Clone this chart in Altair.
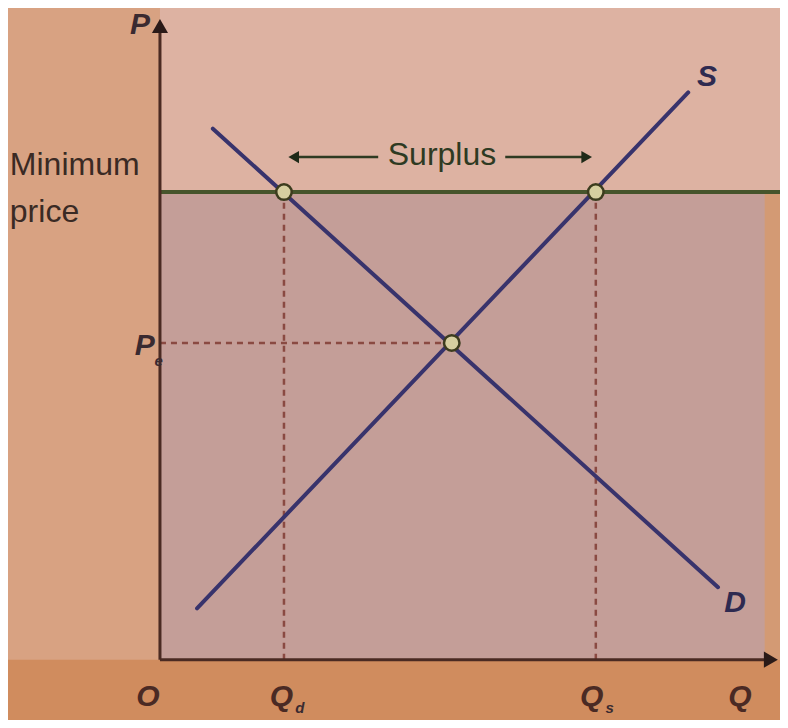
import altair as alt
import pandas as pd

# ---- data (economic units) ----
demand_q = [0.87, 9.18]
demand_p = [8.80, 1.20]
supply_q = [0.61, 8.69]
supply_p = [0.85, 9.40]
min_price = 7.75
pe = 5.25
qe = 4.80
qd = 2.04
qs = 7.17
point_q = [qd, qs, qe]
point_p = [min_price, min_price, pe]

XD = [-2.5, 10.2]
YD = [-1.0, 10.8]

def X(f="q"):
    return alt.X(f"{f}:Q", scale=alt.Scale(domain=XD, nice=False, zero=False), axis=None)

def Y(f="p"):
    return alt.Y(f"{f}:Q", scale=alt.Scale(domain=YD, nice=False, zero=False), axis=None)

# background regions
regions = pd.DataFrame({
    "q": [-2.5, 0, 0, 9.95], "q2": [10.2, 10.2, 9.95, 10.2],
    "p": [-1.0, min_price, 0, 0], "p2": [0, 10.8, min_price, min_price],
    "c": ["#d08c5e", "#ddb2a2", "#c49e98", "#d39a74"],
})
reg = alt.Chart(regions).mark_rect().encode(
    x=X("q"), x2="q2", y=Y("p"), y2="p2",
    color=alt.Color("c:N", scale=None))

# dashed guides
guides = pd.DataFrame({
    "q": [0, qd, qs], "q2": [qe, qd, qs],
    "p": [pe, 0, 0], "p2": [pe, min_price, min_price],
})
dash = alt.Chart(guides).mark_rule(color="#8a4a42", strokeWidth=2.5, strokeDash=[6, 5]).encode(
    x=X("q"), x2="q2", y=Y("p"), y2="p2")

# minimum price line
mp = alt.Chart(pd.DataFrame({"q": [0], "q2": [10.2], "p": [min_price]})).mark_rule(
    color="#46552c", strokeWidth=4).encode(x=X("q"), x2="q2", y=Y("p"), y2="p")

# demand & supply
curves = pd.DataFrame({
    "q": [demand_q[0], supply_q[0]], "q2": [demand_q[1], supply_q[1]],
    "p": [demand_p[0], supply_p[0]], "p2": [demand_p[1], supply_p[1]],
})
ds = alt.Chart(curves).mark_rule(color="#38336c", strokeWidth=4, strokeCap="round").encode(
    x=X("q"), x2="q2", y=Y("p"), y2="p2")

# axes
axes = pd.DataFrame({"q": [0, 0], "q2": [0, 9.95], "p": [0, 0], "p2": [10.4, 0]})
ax = alt.Chart(axes).mark_rule(color="#4a2a22", strokeWidth=3).encode(
    x=X("q"), x2="q2", y=Y("p"), y2="p2")
heads = pd.DataFrame({"q": [0, 10.05], "p": [10.5, 0], "s": ["triangle-up", "triangle-right"]})
hd = alt.Chart(heads).mark_point(filled=True, color="#2a1a18", size=260, opacity=1).encode(
    x=X("q"), y=Y("p"), shape=alt.Shape("s:N", scale=None))

# surplus arrows
arrows = pd.DataFrame({"q": [2.25, 5.68], "q2": [3.59, 6.95], "p": [8.33, 8.33]})
ar = alt.Chart(arrows).mark_rule(color="#2e3a22", strokeWidth=2.5).encode(
    x=X("q"), x2="q2", y=Y("p"), y2="p")
ahead = pd.DataFrame({"q": [2.2, 7.02], "p": [8.33, 8.33], "s": ["triangle-left", "triangle-right"]})
ah = alt.Chart(ahead).mark_point(filled=True, color="#1f2a18", size=150, opacity=1).encode(
    x=X("q"), y=Y("p"), shape=alt.Shape("s:N", scale=None))

# intersection points
pts = alt.Chart(pd.DataFrame({"q": point_q, "p": point_p})).mark_point(
    filled=True, fill="#d6cfa0", stroke="#3c3c1e", strokeWidth=2.5, size=240, opacity=1).encode(
    x=X("q"), y=Y("p"))

# text
plain = pd.DataFrame({
    "t": ["Minimum", "price"],
    "q": [-2.47, -2.47], "p": [8.2, 7.42],
})
tp = alt.Chart(plain).mark_text(font="Liberation Sans", fontSize=32, color="#3a2a24",
                                align="left", baseline="middle").encode(
    x=X("q"), y=Y("p"), text="t:N")

surplus = alt.Chart(pd.DataFrame({"t": ["Surplus"], "q": [4.64], "p": [8.36]})).mark_text(
    font="Liberation Sans", fontSize=32, color="#2e3a22", align="center", baseline="middle").encode(
    x=X("q"), y=Y("p"), text="t:N")

ital = pd.DataFrame({
    "t": ["P", "S", "D", "P", "O", "Q", "Q", "Q"],
    "q": [-0.33, 9.0, 9.46, -0.25, -0.2, 2.0, 7.1, 9.54],
    "p": [10.52, 9.65, 0.94, 5.2, -0.62, -0.62, -0.62, -0.62],
    "c": ["#3a2a30", "#2e2a50", "#2e2a50", "#3a2a30", "#4a2a24", "#4a2a24", "#4a2a24", "#4a2a24"],
})
ti = alt.Chart(ital).mark_text(font="Liberation Sans", fontSize=30, fontStyle="italic",
                               fontWeight="bold", align="center", baseline="middle").encode(
    x=X("q"), y=Y("p"), text="t:N", color=alt.Color("c:N", scale=None))

subs = pd.DataFrame({
    "t": ["e", "d", "s"],
    "q": [-0.02, 2.3, 7.4],
    "p": [4.95, -0.8, -0.8],
})
ts = alt.Chart(subs).mark_text(font="Liberation Sans", fontSize=15, fontStyle="italic",
                               fontWeight="bold", color="#3a2a30", align="center",
                               baseline="middle").encode(
    x=X("q"), y=Y("p"), text="t:N")

chart = alt.layer(reg, dash, mp, ds, ax, hd, ar, ah, pts, tp, surplus, ti, ts).properties(
    width=772, height=712, padding=0,
    autosize=alt.AutoSizeParams(type="none"),
    background="#d8a282",
).configure_view(stroke=None)

chart.save("out.html", embed_options={"renderer": "svg", "actions": False})
